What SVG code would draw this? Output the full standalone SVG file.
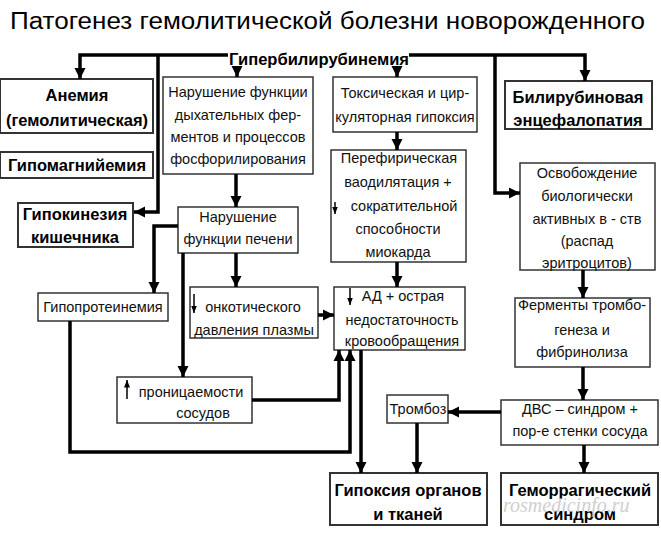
<svg xmlns="http://www.w3.org/2000/svg" width="661" height="541" viewBox="0 0 661 541">
<defs>
<marker id="ah" markerUnits="userSpaceOnUse" markerWidth="12" markerHeight="12" viewBox="0 0 12 12" refX="11" refY="6" orient="auto">
<path d="M0,0.5 L11,6 L0,11.5 Z" fill="#000"/>
</marker>
<marker id="sh" markerUnits="userSpaceOnUse" markerWidth="8" markerHeight="8" viewBox="0 0 8 8" refX="7.5" refY="4" orient="auto">
<path d="M0,1 L7.5,4 L0,7 Z" fill="#000"/>
</marker>
</defs>
<style>
.bg{fill:#fff}
.box{fill:#fff;stroke:#333;stroke-width:1.5}
.bbox{fill:#fff;stroke:#333;stroke-width:2}
.t{font-family:"Liberation Sans",Arial,sans-serif;font-size:14.5px;fill:#111;text-anchor:middle}
.b{font-family:"Liberation Sans",Arial,sans-serif;font-size:16.5px;font-weight:bold;fill:#000;text-anchor:middle}
.c{fill:none;stroke:#000;stroke-width:3.5;marker-end:url(#ah)}
.s{fill:none;stroke:#000;stroke-width:1.5;marker-end:url(#sh)}
</style>
<rect class="bg" x="0" y="0" width="661" height="541"/>
<text x="10" y="29" font-family="Liberation Sans,Arial,sans-serif" font-size="23" fill="#000" textLength="635" lengthAdjust="spacingAndGlyphs">Патогенез гемолитической болезни новорожденного</text>
<text x="229" y="65" class="b" style="text-anchor:start;font-size:16px" textLength="180" lengthAdjust="spacingAndGlyphs">Гипербилирубинемия</text>

<g id="anemia"><rect class="bbox" x="0" y="79" width="153" height="54"/>
<text class="b" x="77" y="101">Анемия</text><text class="b" x="77" y="126">(гемолитическая)</text></g>
<g id="hypomag"><rect class="bbox" x="0" y="152" width="153" height="26"/>
<text class="b" x="77" y="171">Гипомагнийемия</text></g>
<g id="hypokin"><rect class="bbox" x="18" y="203" width="115" height="44"/>
<text class="b" x="75" y="220">Гипокинезия</text><text class="b" x="75" y="243">кишечника</text></g>
<g id="resp"><rect class="box" x="163" y="77" width="150" height="97"/>
<text class="t" x="238" y="97">Нарушение функции</text><text class="t" x="238" y="120">дыхательных фер-</text><text class="t" x="238" y="142">ментов и процессов</text><text class="t" x="238" y="164">фосфорилирования</text></g>
<g id="toxic"><rect class="box" x="333" y="77" width="144" height="55"/>
<text class="t" x="405" y="98">Токсическая и цир-</text><text class="t" x="405" y="122">куляторная гипоксия</text></g>
<g id="bilir"><rect class="bbox" x="505" y="81" width="147" height="48"/>
<text class="b" x="578" y="103">Билирубиновая</text><text class="b" x="578" y="126">энцефалопатия</text></g>
<g id="liver"><rect class="box" x="178" y="207" width="120" height="46"/>
<text class="t" x="238" y="222">Нарушение</text><text class="t" x="238" y="244">функции печени</text></g>
<g id="periph"><rect class="box" x="331" y="150" width="135" height="112"/>
<text class="t" x="399" y="163">Перефирическая</text><text class="t" x="398" y="187">ваодилятация +</text><text class="t" x="404" y="211">сократительной</text><text class="t" x="398" y="234">способности</text><text class="t" x="398" y="257">миокарда</text>
<path class="s" d="M335 202 V214"/></g>
<g id="release"><rect class="box" x="520" y="163" width="135" height="107"/>
<text class="t" x="587" y="178">Освобождение</text><text class="t" x="587" y="201">биологически</text><text class="t" x="587" y="224">активных в - ств</text><text class="t" x="587" y="246">(распад</text><text class="t" x="587" y="268">эритроцитов)</text></g>
<g id="hypoprot"><rect class="box" x="38" y="293" width="130" height="28"/>
<text class="t" x="103" y="312">Гипопротеинемия</text></g>
<g id="oncot"><rect class="box" x="190" y="287" width="128" height="51"/>
<text class="t" x="253" y="312">онкотического</text><text class="t" x="254" y="335">давления плазмы</text>
<path class="s" d="M194 294 V313"/></g>
<g id="ad"><rect class="box" x="334" y="287" width="131" height="63"/>
<text class="t" x="403" y="301">АД + острая</text><text class="t" x="402" y="325">недостаточность</text><text class="t" x="402" y="346">кровообращения</text>
<path class="s" d="M350 288 V305"/></g>
<g id="enzymes"><rect class="box" x="515" y="298" width="135" height="69"/>
<text class="t" x="582" y="310">Ферменты тромбо-</text><text class="t" x="582" y="335">генеза и</text><text class="t" x="582" y="357">фибринолиза</text></g>
<g id="perm"><rect class="box" x="117" y="377" width="135" height="46"/>
<text class="t" x="191" y="397">проницаемости</text><text class="t" x="203" y="418">сосудов</text>
<path class="s" d="M127 399 V380"/></g>
<g id="thromb"><rect class="box" x="387" y="395" width="61" height="28"/>
<text class="t" x="418" y="414">Тромбоз</text></g>
<g id="dic"><rect class="box" x="501" y="400" width="157" height="45"/>
<text class="t" x="580" y="414">ДВС – синдром +</text><text class="t" x="580" y="436">пор-е стенки сосуда</text></g>
<g id="hypoxia"><rect class="bbox" x="330" y="473" width="157" height="52"/>
<text class="b" x="408" y="496">Гипоксия органов</text><text class="b" x="408" y="520">и тканей</text></g>
<g id="hemorr"><rect class="bbox" x="501" y="473" width="157" height="52"/>
<text class="b" x="580" y="496">Геморрагический</text><text class="b" x="580" y="520">синдром</text></g>

<text x="503" y="512" font-family="Liberation Serif,serif" font-style="italic" font-size="20" fill="#c4c4c4" opacity="0.8">rosmedicinfo.ru</text>

<g id="connectors">
<path class="c" d="M228 55 H80 V79"/>
<path class="c" d="M409 55 H585 V81"/>
<path class="c" d="M158 55 V212 H134"/>
<path class="c" d="M495 55 V193 H520"/>
<path class="c" d="M237 68 V77"/>
<path class="c" d="M397 68 V77"/>
<path class="c" d="M236 174 V207"/>
<path class="c" d="M178 226 H154 V293"/>
<path class="c" d="M236 253 V287"/>
<path class="c" d="M183 253 V377"/>
<path class="c" d="M318 315 H334"/>
<path class="c" d="M252 400 H339 V350"/>
<path class="c" d="M70 321 V452 H350 V350"/>
<path class="c" d="M361 350 V473"/>
<path class="c" d="M397 132 V150"/>
<path class="c" d="M397 262 V287"/>
<path class="c" d="M583 270 V298"/>
<path class="c" d="M583 367 V400"/>
<path class="c" d="M501 412 H448"/>
<path class="c" d="M417 423 V473"/>
<path class="c" d="M584 445 V473"/>
</g>
</svg>
